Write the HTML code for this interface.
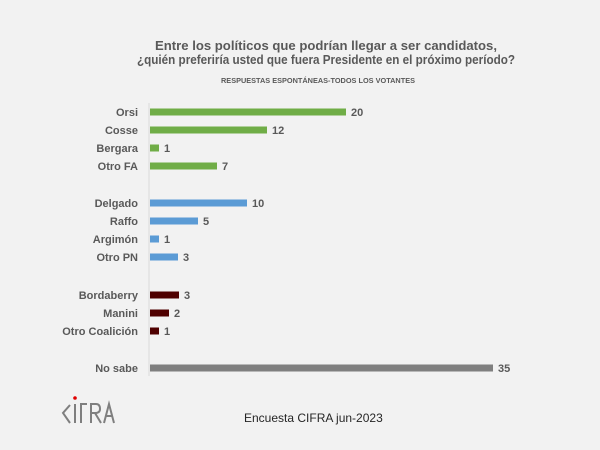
<!DOCTYPE html>
<html><head><meta charset="utf-8"><style>
html,body{margin:0;padding:0;background:#f2f2f2;}
svg{display:block;font-family:"Liberation Sans",sans-serif;}
</style></head><body>
<svg width="600" height="450" xmlns="http://www.w3.org/2000/svg">
<rect width="600" height="450" fill="#f2f2f2"/>
<g fill="#595959" font-weight="bold" text-anchor="middle">
<text x="326" y="50" font-size="13" textLength="342" lengthAdjust="spacingAndGlyphs">Entre los políticos que podrían llegar a ser candidatos,</text>
<text x="326" y="64" font-size="13" textLength="378" lengthAdjust="spacingAndGlyphs">¿quién preferiría usted que fuera Presidente en el próximo período?</text>
<text x="318" y="83" font-size="7" textLength="194" lengthAdjust="spacingAndGlyphs">RESPUESTAS ESPONTÁNEAS-TODOS LOS VOTANTES</text>
</g>
<line x1="149" y1="103" x2="149" y2="376" stroke="#d9d9d9" stroke-width="1"/>
<g font-size="11" font-weight="bold" fill="#595959">
<g text-anchor="end">
<text x="138" y="116">Orsi</text>
<text x="138" y="134">Cosse</text>
<text x="138" y="152">Bergara</text>
<text x="138" y="170">Otro FA</text>
<text x="138" y="207">Delgado</text>
<text x="138" y="225">Raffo</text>
<text x="138" y="243">Argimón</text>
<text x="138" y="261">Otro PN</text>
<text x="138" y="299">Bordaberry</text>
<text x="138" y="317">Manini</text>
<text x="138" y="335">Otro Coalición</text>
<text x="138" y="372">No sabe</text>
</g>
<g fill="#70ad47">
<rect x="150" y="108.5" width="196" height="7"/>
<rect x="150" y="126.5" width="117" height="7"/>
<rect x="150" y="144.5" width="9" height="7"/>
<rect x="150" y="162.5" width="67" height="7"/>
</g>
<g fill="#5b9bd5">
<rect x="150" y="199.5" width="97" height="7"/>
<rect x="150" y="217.5" width="48" height="7"/>
<rect x="150" y="235.5" width="9" height="7"/>
<rect x="150" y="253.5" width="28" height="7"/>
</g>
<g fill="#4f0000">
<rect x="150" y="291.5" width="29" height="7"/>
<rect x="150" y="309.5" width="19" height="7"/>
<rect x="150" y="327.5" width="9" height="7"/>
</g>
<rect x="150" y="364.5" width="343" height="7" fill="#7f7f7f"/>
<text x="351" y="116">20</text>
<text x="272" y="134">12</text>
<text x="164" y="152">1</text>
<text x="222" y="170">7</text>
<text x="252" y="207">10</text>
<text x="203" y="225">5</text>
<text x="164" y="243">1</text>
<text x="183" y="261">3</text>
<text x="184" y="299">3</text>
<text x="174" y="317">2</text>
<text x="164" y="335">1</text>
<text x="498" y="372">35</text>
</g>
<text x="244" y="422" font-size="12" fill="#262626">Encuesta CIFRA jun-2023</text>
<g stroke="#7f7f7f" stroke-width="2" fill="none">
<polyline points="70,405 63,413 70,423"/>
<line x1="75" y1="404" x2="75" y2="423"/>
<polyline points="87,404 81,404 81,423 M81,413 86,413"/>
<path d="M91,423 V404 H96 Q100,404 100,409 Q100,413 95,413 H91 M95,413 L101,423"/>
<path d="M104,423 L109,404 L114,423 M106,416 H112"/>
</g>
<circle cx="75" cy="398" r="1.8" fill="#e00000"/>
</svg>
</body></html>
